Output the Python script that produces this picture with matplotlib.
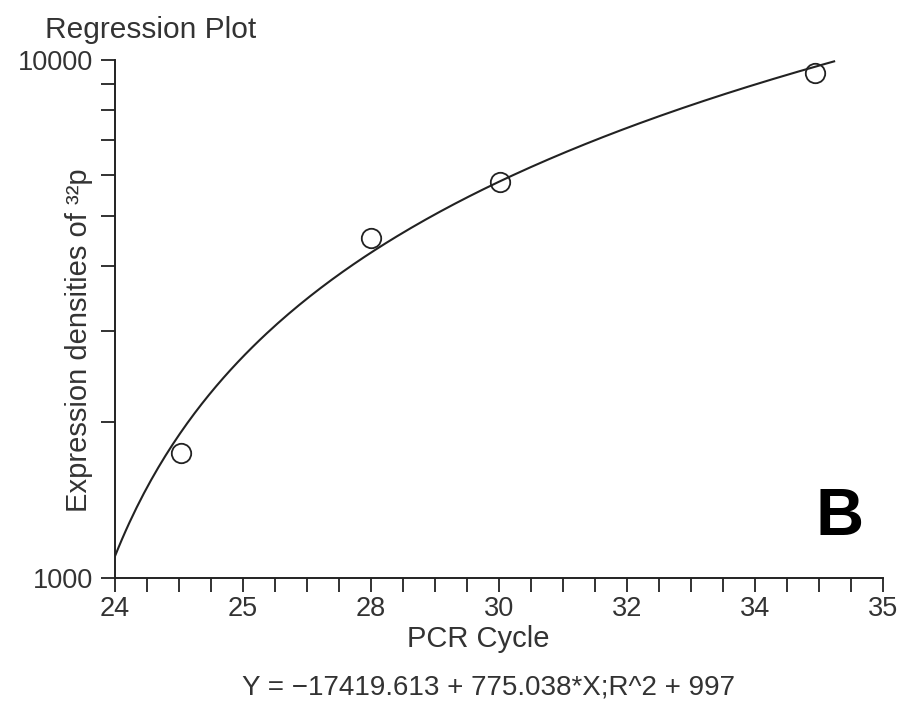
import numpy as np
import matplotlib
matplotlib.use('Agg')
import matplotlib.pyplot as plt
from matplotlib.ticker import NullFormatter, FixedLocator

plt.rcParams['font.family'] = ['Liberation Sans', 'DejaVu Sans']

# data
cycle = [24.95, 27.66, 29.51, 34.02]
density = [1740, 4530, 5820, 9430]

# x axis: 24 ticks between 24 and 35, every 4th one labelled
xtick_labels = ['24', '25', '28', '30', '32', '34', '35']
yticks_major = [1000, 10000]
yticks_minor = [2000, 3000, 4000, 5000, 6000, 7000, 8000, 9000]

# fitted line as drawn in the figure
fit_intercept = -19490.0
fit_slope = 858.0
fit_range = (24.0, 34.3)

equation = 'Y = \u221217419.613 + 775.038*X;R^2 + 997'
txt = '#333333'

fig = plt.figure(figsize=(9.05, 7.28), dpi=100)
ax = fig.add_axes([115 / 905, 150 / 728, 768 / 905, 518 / 728])

xs = np.linspace(fit_range[0], fit_range[1], 200)
ax.plot(xs, fit_intercept + fit_slope * xs, color='#222222', lw=1.5)
ax.plot(cycle, density, 'o', mfc='none', mec='#222222', ms=14, mew=1.3)

ax.set_yscale('log')
ax.set_xlim(24, 35)
ax.set_ylim(1000, 10000)

ax.spines['top'].set_visible(False)
ax.spines['right'].set_visible(False)
for s in ['left', 'bottom']:
    ax.spines[s].set_linewidth(1.4)
    ax.spines[s].set_color('#222222')

all_x = np.linspace(24, 35, 25)
ax.xaxis.set_major_locator(FixedLocator(all_x[::4]))
ax.set_xticklabels(xtick_labels)
ax.xaxis.set_minor_locator(FixedLocator(all_x))
ax.yaxis.set_major_locator(FixedLocator(yticks_major))
ax.set_yticklabels(['1000', '10000'])
ax.yaxis.set_minor_locator(FixedLocator(yticks_minor))
ax.yaxis.set_minor_formatter(NullFormatter())

ax.tick_params(which='both', direction='out', length=10, width=1.3,
               color='#222222', labelsize=19.5, labelcolor=txt, pad=6)
ax.tick_params(axis='x', which='both', pad=3)

ax.set_xlabel('PCR Cycle', fontsize=21, color=txt)
ax.xaxis.set_label_coords(0.473, -0.09)
ax.set_ylabel('Expression densities of \u00b3\u00b2p', fontsize=21, color=txt)
ax.yaxis.set_label_coords(-0.028, 0.46)

fig.text(45 / 905, 1 - 30 / 728, 'Regression Plot', fontsize=21.5, color=txt,
         ha='left', va='center')
fig.text(488 / 905, 1 - 688 / 728, equation, fontsize=20, color=txt,
         ha='center', va='center')
fig.text(840 / 905, 1 - 518 / 728, 'B', fontsize=48, fontweight='bold',
         ha='center', va='center', color='black')

fig.savefig('out.png', dpi=100)
